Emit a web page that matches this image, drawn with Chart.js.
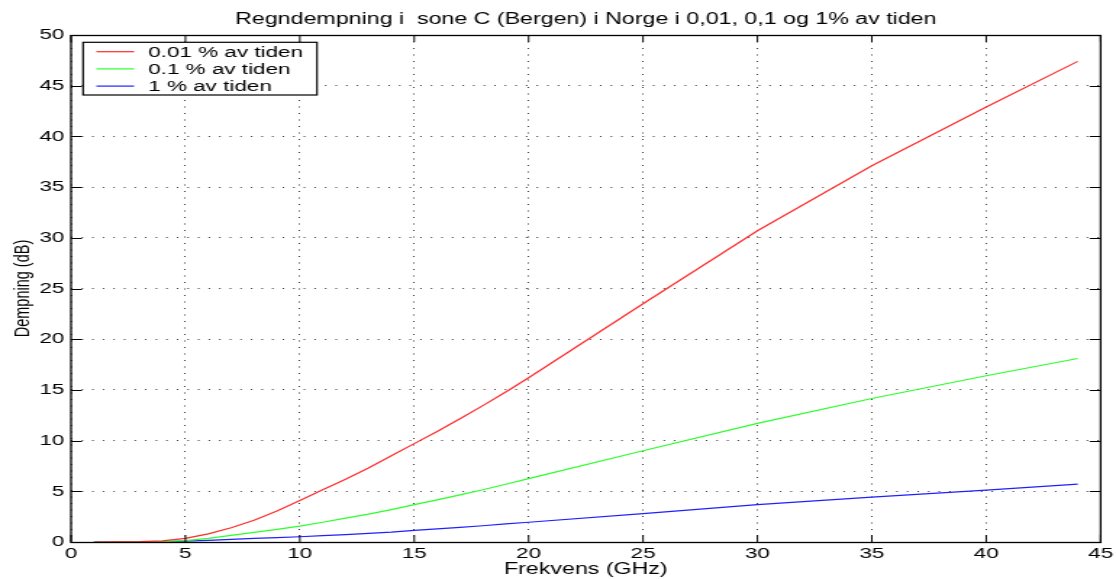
<!DOCTYPE html>
<html>
<head>
<meta charset="utf-8">
<script src="https://cdn.jsdelivr.net/npm/chart.js@4/dist/chart.umd.min.js"></script>
<style>
  html, body { margin: 0; padding: 0; background: #fff; overflow: hidden; }
</style>
</head>
<body>
<!-- the figure is rendered on a 770 px wide bitmap and shown stretched to 1116 px -->
<canvas id="c" width="770" height="579" style="width:1116px;height:579px;display:block"></canvas>
<script>
// Frequencies (GHz) at which the attenuation was computed
const freqGHz = [1, 2, 3, 4, 5, 6, 7, 8, 9, 10, 11, 12, 13, 14, 15, 16, 17, 18, 19, 20, 25, 30, 35, 40, 44];

// Rain attenuation (dB) exceeded 0.01 %, 0.1 % and 1 % of the time
const att001 = [0, 0.01, 0.03, 0.12, 0.35, 0.8, 1.4, 2.15, 3.05, 4.1, 5.15, 6.2, 7.3, 8.5, 9.7, 10.9, 12.15, 13.45, 14.8, 16.2, 23.5, 30.7, 37.1, 42.9, 47.4];
const att01  = [0, 0, 0.01, 0.04, 0.13, 0.35, 0.65, 0.95, 1.25, 1.57, 1.95, 2.35, 2.75, 3.2, 3.68, 4.15, 4.65, 5.15, 5.7, 6.25, 9.0, 11.7, 14.15, 16.4, 18.1];
const att1   = [0, 0, 0, 0.01, 0.08, 0.17, 0.26, 0.35, 0.44, 0.52, 0.62, 0.73, 0.85, 0.98, 1.15, 1.3, 1.45, 1.6, 1.78, 1.95, 2.8, 3.68, 4.42, 5.12, 5.7];

const seriesLabels = ['0.01 % av tiden', '0.1 % av tiden', '1 % av tiden'];
const seriesColors = ['#ff2a2a', '#2cff2c', '#2020ff'];

const xTicks = { min: 0, max: 45, step: 5 };
const yTicks = { min: 0, max: 50, step: 5 };

const FONT = '"Liberation Sans", Arial, Helvetica, sans-serif';

function toPoints(xs, ys) {
  return xs.map((x, i) => ({ x: x, y: ys[i] }));
}

// Axis box with inward ticks on all four sides, plus the boxed legend
const framePlugin = {
  id: 'frame',
  afterDatasetsDraw(chart) {
    const { ctx, chartArea: a, scales } = chart;
    ctx.save();
    ctx.strokeStyle = '#000';
    ctx.lineWidth = 1;
    ctx.beginPath();
    scales.x.ticks.forEach(t => {
      const px = scales.x.getPixelForValue(t.value);
      ctx.moveTo(px, a.bottom); ctx.lineTo(px, a.bottom - 7);
      ctx.moveTo(px, a.top); ctx.lineTo(px, a.top + 7);
    });
    scales.y.ticks.forEach(t => {
      const py = Math.round(scales.y.getPixelForValue(t.value)) + 0.5;
      ctx.moveTo(a.left, py); ctx.lineTo(a.left + 7.5, py);
      ctx.moveTo(a.right, py); ctx.lineTo(a.right - 7.5, py);
    });
    ctx.stroke();
    ctx.lineWidth = 1.3;
    ctx.strokeRect(a.left, Math.round(a.top) + 0.5, a.right - a.left, Math.round(a.bottom - a.top));

    // legend box
    const lx = a.left + 8.3, ly = a.top + 7.3, lw = 161.4, lh = 52.7;
    ctx.fillStyle = '#fff';
    ctx.fillRect(lx, ly, lw, lh);
    ctx.lineWidth = 1.2;
    ctx.strokeRect(lx, ly, lw, lh);
    ctx.font = '15.5px ' + FONT;
    ctx.textBaseline = 'middle';
    ctx.textAlign = 'left';
    chart.data.datasets.forEach((ds, i) => {
      const yy = a.top + 16.7 + i * 17.2;
      ctx.strokeStyle = ds.borderColor;
      ctx.lineWidth = 1.2;
      ctx.beginPath();
      ctx.moveTo(a.left + 17.5, yy);
      ctx.lineTo(a.left + 43.5, yy);
      ctx.stroke();
      ctx.fillStyle = '#000';
      ctx.fillText(ds.label, a.left + 53.2, yy + 1);
    });
    ctx.restore();
  }
};

new Chart(document.getElementById('c'), {
  type: 'line',
  data: {
    datasets: [
      { label: seriesLabels[0], data: toPoints(freqGHz, att001), borderColor: seriesColors[0] },
      { label: seriesLabels[1], data: toPoints(freqGHz, att01),  borderColor: seriesColors[1] },
      { label: seriesLabels[2], data: toPoints(freqGHz, att1),   borderColor: seriesColors[2] }
    ]
  },
  options: {
    responsive: false,
    animation: false,
    devicePixelRatio: 1,
    layout: { padding: { left: 0, right: 9.3, top: 0, bottom: 0 } },
    elements: {
      line: { borderWidth: 1.2, tension: 0, fill: false },
      point: { radius: 0, hoverRadius: 0 }
    },
    plugins: {
      legend: { display: false },
      tooltip: { enabled: false },
      title: {
        display: true,
        fullSize: false,
        text: 'Regndempning i  sone C (Bergen) i Norge i 0,01, 0,1 og 1% av tiden',
        color: '#000',
        font: { family: FONT, size: 16, weight: 'normal', lineHeight: 1.2 },
        padding: { top: 10, bottom: 5.8 }
      }
    },
    scales: {
      x: {
        type: 'linear',
        min: xTicks.min, max: xTicks.max,
        ticks: { stepSize: xTicks.step, color: '#000', padding: 2, maxRotation: 0,
                 font: { family: FONT, size: 15.5 } },
        grid: { color: '#3a3a3a', lineWidth: 1, drawTicks: false },
        border: { display: false, dash: [1, 5.5] },
        title: { display: true, text: 'Frekvens (GHz)', color: '#000',
                 font: { family: FONT, size: 16 }, padding: { top: 0, bottom: 0 } },
        afterFit(scale) { scale.height = 37; }
      },
      y: {
        min: yTicks.min, max: yTicks.max,
        ticks: { stepSize: yTicks.step, color: '#000', padding: 4.6,
                 font: { family: FONT, size: 15.5 } },
        grid: { color: '#3a3a3a', lineWidth: 1, drawTicks: false },
        border: { display: false, dash: [1, 6.3] },
        title: { display: true, text: 'Dempning (dB)', color: '#000',
                 font: { family: FONT, size: 14.5 },
                 padding: { top: 7.5, bottom: 0 } },
        afterFit(scale) { scale.width = 49; }
      }
    }
  },
  plugins: [framePlugin]
});
</script>
</body>
</html>
